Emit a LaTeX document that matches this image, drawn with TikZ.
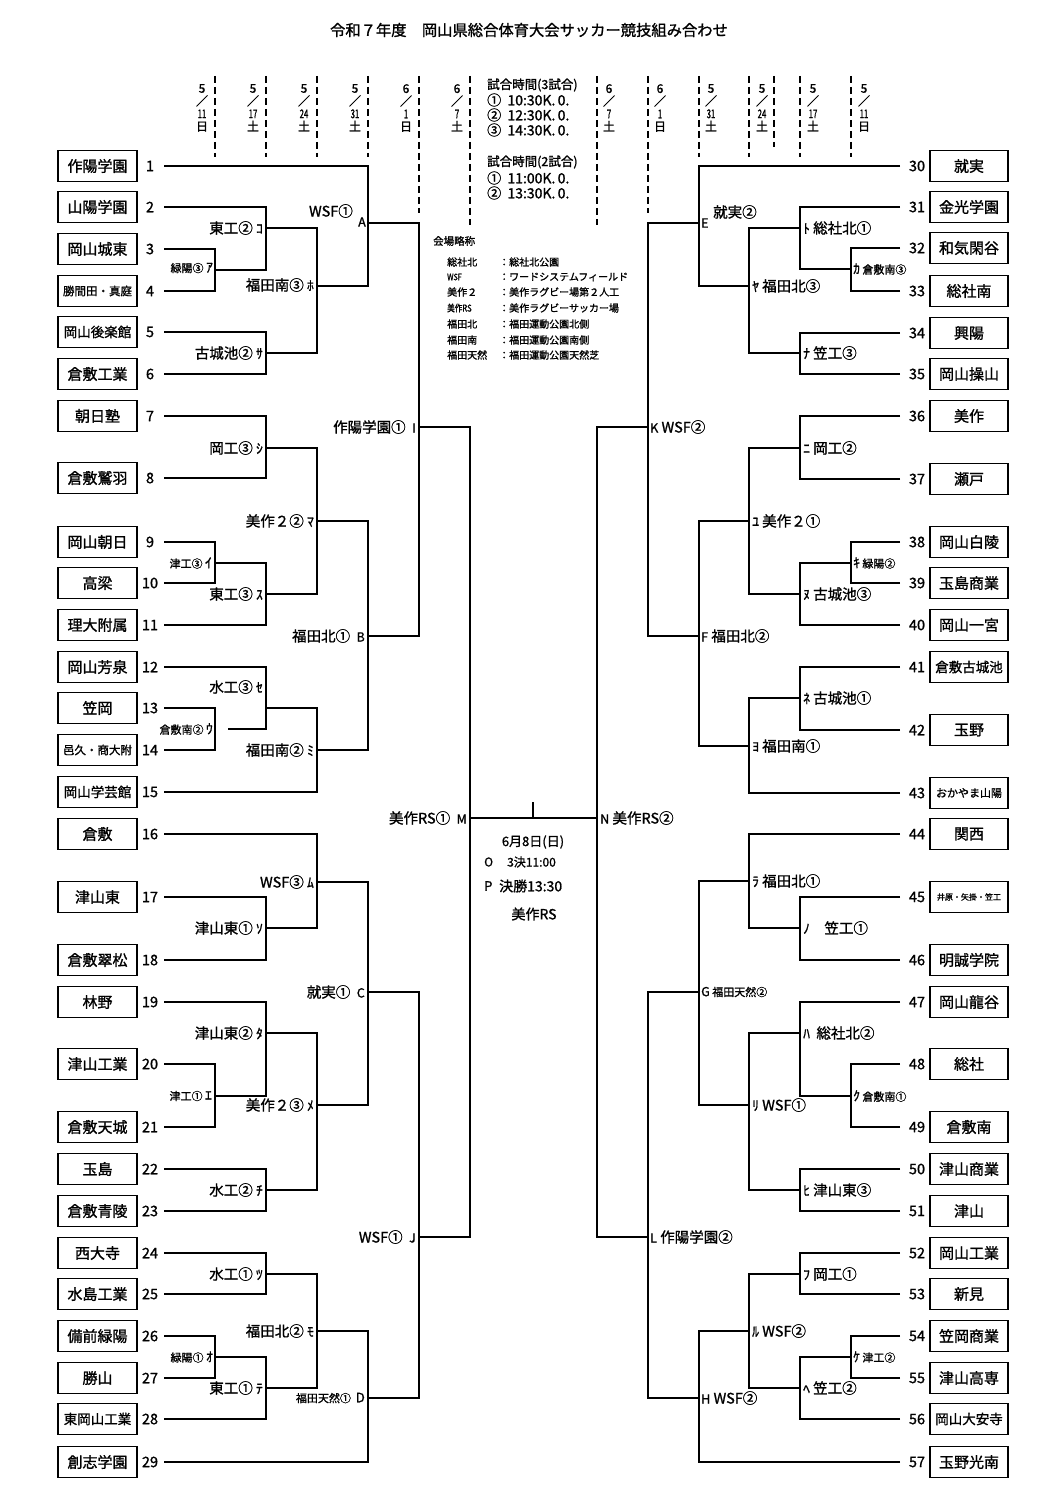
\documentclass[tikz,border=0pt]{standalone}
\usepackage{fontspec}
\setmainfont{Noto Sans CJK JP}[FakeBold=1.2]
\newcommand\fsz[1]{\fontsize{#1}{#1}\selectfont}
\newcommand\kanamark[1]{{\fsz{13.5}#1}}
\begin{document}
\begin{tikzpicture}[x=1pt,y=-1pt,
  namebox/.style={draw, line width=1.8pt, minimum width=79pt, minimum height=31pt, inner sep=0pt},
  numlab/.style={inner sep=0pt, font=\fsz{14.5}},
  lab/.style={inner sep=0pt, font=\fsz{14.5}},
  slab/.style={inner sep=0pt, font=\fsz{11}},
  txt/.style={inner sep=0pt},
  dashline/.style={line width=2.8pt, dash pattern=on 7pt off 4pt},
  br/.style={line width=1.9pt},
  datelab/.style={inner sep=0pt, align=center, anchor=north, font=\fontsize{12}{12.7}\selectfont}]
\fill[white] (0,0) rectangle (1059,1511);
\useasboundingbox (0,0) rectangle (1059,1511);

% title
\node[txt, font=\fsz{15.3}] (title) at (529,30) {令和７年度　岡山県総合体育大会サッカー競技組み合わせ};

% dashed day lines
\foreach \x in {215,266,317,368,699,749,800,851} {\draw[dashline] (\x,76) -- (\x,157);}
\draw[dashline] (774,76) -- (774,147);
\foreach \x in {419,648} {\draw[dashline] (\x,76) -- (\x,213);}
\foreach \x in {470,597} {\draw[dashline] (\x,76) -- (\x,225);}

% date labels
\foreach \x/\m/\d/\w [count=\k] in {202/5/11/日,253/5/17/土,304/5/24/土,355/5/31/土,406/6/1/日,457/6/7/土,609/6/7/土,660/6/1/日,711/5/31/土,762/5/24/土,813/5/17/土,864/5/11/日}
  {\node[datelab] (date\k) at (\x,84) {\m\\／\\\scalebox{0.65}[1]{\d}\\\w};}

% match times
\node[txt, anchor=west, font=\fsz{12.5}] (tm0) at (487,85) {試合時間(3試合)};
\node[txt, anchor=west, font=\fsz{14}] (tm1) at (487,100) {①\ \ 10:30K.\,0.};
\node[txt, anchor=west, font=\fsz{14}] (tm2) at (487,115) {②\ \ 12:30K.\,0.};
\node[txt, anchor=west, font=\fsz{14}] (tm3) at (487,130) {③\ \ 14:30K.\,0.};
\node[txt, anchor=west, font=\fsz{12.5}] (tm4) at (487,162) {試合時間(2試合)};
\node[txt, anchor=west, font=\fsz{14}] (tm5) at (487,178) {①\ \ 11:00K.\,0.};
\node[txt, anchor=west, font=\fsz{14}] (tm6) at (487,193) {②\ \ 13:30K.\,0.};

% legend
\node[txt, anchor=west, font=\fsz{10.5}] (lg0) at (433,241) {会場略称};
\foreach \y/\a/\b [count=\k] in {262/総社北/総社北公園,277/{\scalebox{0.8}[1]{\fsz{9}WSF}}/ワードシステムフィールド,292/美作２/美作ラグビー場第２人工,308/{\scalebox{0.8}[1]{\fsz{9.5}美作RS}}/美作ラグビーサッカー場,324/福田北/福田運動公園北側,340/福田南/福田運動公園南側,355/福田天然/福田運動公園天然芝}
{
  \node[txt, anchor=west, font=\fsz{10}] (lga\k) at (447,\y) {\a};
  \node[txt, anchor=west, font=\fsz{10}] (lgb\k) at (499,\y) {：\b};
}

% left teams
\foreach \n/\y/\nm/\fs in {1/166/作陽学園/15,2/207/山陽学園/15,3/249/岡山城東/15,4/291/勝間田・真庭/11.5,5/332/岡山後楽館/13.5,6/374/倉敷工業/15,7/416/朝日塾/15,8/478/倉敷鷲羽/15,9/542/岡山朝日/15,10/583/高梁/15,11/625/理大附属/15,12/667/岡山芳泉/15,13/708/笠岡/15,14/750/邑久・商大附/11.5,15/792/岡山学芸館/13.5,16/834/倉敷/15,17/897/津山東/15,18/960/倉敷翠松/15,19/1002/林野/15,20/1064/津山工業/15,21/1127/倉敷天城/15,22/1169/玉島/15,23/1211/倉敷青陵/15,24/1253/西大寺/15,25/1294/水島工業/15,26/1336/備前緑陽/15,27/1378/勝山/15,28/1419/東岡山工業/13.5,29/1462/創志学園/15}
{
  \node[namebox, font=\fsz{\fs}] (box\n) at (97.5,\y) {\nm};
  \node[numlab] (num\n) at (150,\y) {\n};
  \coordinate (t\n) at (164,\y);
}
% right teams
\foreach \n/\y/\nm/\fs in {30/166/就実/15,31/207/金光学園/15,32/248/和気閑谷/15,33/291/総社南/15,34/333/興陽/15,35/374/岡山操山/15,36/416/美作/15,37/479/瀬戸/15,38/542/岡山白陵/15,39/583/玉島商業/15,40/625/岡山一宮/15,41/667/倉敷古城池/13.5,42/730/玉野/15,43/793/おかやま山陽/11,44/834/関西/15,45/897/井原・矢掛・笠工/8,46/960/明誠学院/15,47/1002/岡山龍谷/15,48/1064/総社/15,49/1127/倉敷南/15,50/1169/津山商業/15,51/1211/津山/15,52/1253/岡山工業/15,53/1294/新見/15,54/1336/笠岡商業/15,55/1378/津山高専/15,56/1419/岡山大安寺/13.5,57/1462/玉野光南/15}
{
  \node[namebox, minimum width=78pt, font=\fsz{\fs}] (box\n) at (969,\y) {\nm};
  \node[numlab] (num\n) at (917,\y) {\n};
  \coordinate (t\n) at (900,\y);
}

% left junctions
\coordinate (ja) at (215,270);
\coordinate (jko) at (266,228);
\coordinate (jsa) at (266,353);
\coordinate (jho) at (317,286);
\coordinate (jA) at (368,223);
\coordinate (jshi) at (266,448);
\coordinate (ji) at (215,563);
\coordinate (jsu) at (266,594);
\coordinate (jma) at (317,521);
\coordinate (ju) at (215,729);
\coordinate (juout) at (228,729);
\coordinate (jse) at (266,708);
\coordinate (jmi) at (317,750);
\coordinate (jB) at (368,636);
\coordinate (jI) at (419,427);
\coordinate (jso) at (266,928);
\coordinate (jmu) at (317,882);
\coordinate (je) at (215,1096);
\coordinate (jta) at (266,1033);
\coordinate (jchi) at (266,1190);
\coordinate (jme) at (317,1105);
\coordinate (jC) at (368,992);
\coordinate (jtsu) at (266,1274);
\coordinate (jo) at (215,1357);
\coordinate (jte) at (266,1388);
\coordinate (jmo) at (317,1331);
\coordinate (jD) at (368,1398);
\coordinate (jJ) at (419,1237);
\coordinate (jM) at (470,818);
% right junctions
\coordinate (jE) at (699,223);
\coordinate (jto) at (800,228);
\coordinate (jka) at (851,269);
\coordinate (jya) at (749,286);
\coordinate (jna) at (800,353);
\coordinate (jK) at (648,427);
\coordinate (jni) at (800,448);
\coordinate (jyu) at (749,521);
\coordinate (jki) at (851,563);
\coordinate (jnu) at (800,594);
\coordinate (jF) at (699,636);
\coordinate (jne) at (800,698);
\coordinate (jyo) at (749,746);
\coordinate (jN) at (597,818);
\coordinate (jra) at (749,881);
\coordinate (jno) at (800,928);
\coordinate (jG) at (699,992);
\coordinate (jha) at (800,1033);
\coordinate (jku) at (851,1096);
\coordinate (jri) at (749,1105);
\coordinate (jhi) at (800,1190);
\coordinate (jL) at (648,1237);
\coordinate (jfu) at (800,1274);
\coordinate (jru) at (749,1331);
\coordinate (jke) at (851,1357);
\coordinate (jhe) at (800,1388);
\coordinate (jH) at (699,1398);
\coordinate (tick) at (533,802);

% left bracket
\draw[br] (t1) -| (jA) (t2) -| (jko) (t3) -| (ja) (t4) -| (ja) (ja) -| (jko)
  (jko) -| (jho) (t5) -| (jsa) (t6) -| (jsa) (jsa) -| (jho) (jho) -| (jA) (jA) -| (jI)
  (t7) -| (jshi) (t8) -| (jshi) (jshi) -| (jma) (t9) -| (ji) (t10) -| (ji) (ji) -| (jsu)
  (t11) -| (jsu) (jsu) -| (jma) (jma) -| (jB) (t12) -| (jse) (t13) -| (ju) (t14) -| (ju)
  (juout) -| (jse) (jse) -| (jmi) (t15) -| (jmi) (jmi) -| (jB) (jB) -| (jI) (jI) -| (jM)
  (t16) -| (jmu) (t17) -| (jso) (t18) -| (jso) (jso) -| (jmu) (jmu) -| (jC)
  (t19) -| (jta) (t20) -| (je) (t21) -| (je) (je) -| (jta) (jta) -| (jme)
  (t22) -| (jchi) (t23) -| (jchi) (jchi) -| (jme) (jme) -| (jC) (jC) -| (jJ)
  (t24) -| (jtsu) (t25) -| (jtsu) (jtsu) -| (jmo) (t26) -| (jo) (t27) -| (jo) (jo) -| (jte)
  (t28) -| (jte) (jte) -| (jmo) (jmo) -| (jD) (t29) -| (jD) (jD) -| (jJ) (jJ) -| (jM);
% right bracket
\draw[br] (t30) -| (jE) (t31) -| (jto) (t32) -| (jka) (t33) -| (jka) (jka) -| (jto)
  (jto) -| (jya) (t34) -| (jna) (t35) -| (jna) (jna) -| (jya) (jya) -| (jE) (jE) -| (jK)
  (t36) -| (jni) (t37) -| (jni) (jni) -| (jyu) (t38) -| (jki) (t39) -| (jki) (jki) -| (jnu)
  (t40) -| (jnu) (jnu) -| (jyu) (jyu) -| (jF) (t41) -| (jne) (t42) -| (jne) (jne) -| (jyo)
  (t43) -| (jyo) (jyo) -| (jF) (jF) -| (jK) (jK) -| (jN)
  (t44) -| (jra) (t45) -| (jno) (t46) -| (jno) (jno) -| (jra) (jra) -| (jG)
  (t47) -| (jha) (t48) -| (jku) (t49) -| (jku) (jku) -| (jha) (jha) -| (jri)
  (t50) -| (jhi) (t51) -| (jhi) (jhi) -| (jri) (jri) -| (jG) (jG) -| (jL)
  (t52) -| (jfu) (t53) -| (jfu) (jfu) -| (jru) (t54) -| (jke) (t55) -| (jke) (jke) -| (jhe)
  (t56) -| (jhe) (jhe) -| (jru) (jru) -| (jH) (t57) -| (jH) (jH) -| (jL) (jL) -| (jN);
\draw[br] (jM) -- (jN) (tick) -- (tick |- jM);

% left labels
\node[slab, anchor=east] (la) at (213,268) {緑陽③ \kanamark{ｱ}};
\node[lab, anchor=east] (lko) at (263,228) {東工② \kanamark{ｺ}};
\node[lab, anchor=east] (lsa) at (263,353) {古城池② \kanamark{ｻ}};
\node[lab, anchor=east] (lho) at (314,285) {福田南③ \kanamark{ﾎ}};
\node[lab, anchor=east] (lA1) at (353,211) {WSF①};
\node[lab, anchor=east, font=\fsz{12.5}] (lA2) at (366,222) {A};
\node[lab, anchor=east] (lshi) at (263,448) {岡工③ \kanamark{ｼ}};
\node[slab, anchor=east] (li) at (212,563) {津工③ \kanamark{ｲ}};
\node[lab, anchor=east] (lsu) at (263,594) {東工③ \kanamark{ｽ}};
\node[lab, anchor=east] (lma) at (314,521) {美作２② \kanamark{ﾏ}};
\node[slab, anchor=east] (lu) at (213,729) {倉敷南② \kanamark{ｳ}};
\node[lab, anchor=east] (lse) at (263,687) {水工③ \kanamark{ｾ}};
\node[lab, anchor=east] (lmi) at (314,750) {福田南② \kanamark{ﾐ}};
\node[lab, anchor=east] (lB) at (365,636) {福田北①\ \ {\fsz{12.5}B}};
\node[lab, anchor=east] (lI) at (416,427) {作陽学園①\ \ {\fsz{12.5}I}};
\node[lab, anchor=east] (lso) at (263,928) {津山東① \kanamark{ｿ}};
\node[lab, anchor=east] (lmu) at (314,882) {WSF③ \kanamark{ﾑ}};
\node[lab, anchor=east] (lta) at (263,1033) {津山東② \kanamark{ﾀ}};
\node[slab, anchor=east] (le) at (212,1096) {津工① \kanamark{ｴ}};
\node[lab, anchor=east] (lme) at (314,1105) {美作２③ \kanamark{ﾒ}};
\node[lab, anchor=east] (lC) at (365,992) {就実①\ \ {\fsz{12.5}C}};
\node[lab, anchor=east] (lchi) at (263,1190) {水工② \kanamark{ﾁ}};
\node[lab, anchor=east] (ltsu) at (263,1274) {水工① \kanamark{ﾂ}};
\node[lab, anchor=east] (lmo) at (314,1331) {福田北② \kanamark{ﾓ}};
\node[slab, anchor=east] (lo) at (213,1357) {緑陽① \kanamark{ｵ}};
\node[lab, anchor=east] (lte) at (263,1388) {東工① \kanamark{ﾃ}};
\node[slab, anchor=east] (lD) at (365,1398) {福田天然①\ \ {\fsz{13}D}};
\node[lab, anchor=east] (lJ) at (416,1237) {WSF①\ \ {\fsz{12.5}J}};
\node[lab, anchor=east] (lM) at (467,818) {美作RS①\ \ {\fsz{12.5}M}};

% right labels
\node[lab, anchor=west, font=\fsz{12.5}] (lE1) at (701,223) {E};
\node[lab, anchor=west] (lE2) at (713,212) {就実②};
\node[lab, anchor=west] (lto) at (803,228) {\kanamark{ﾄ} 総社北①};
\node[slab, anchor=west] (lka) at (853,269) {\kanamark{ｶ} 倉敷南③};
\node[lab, anchor=west] (lya) at (752,286) {\kanamark{ﾔ} 福田北③};
\node[lab, anchor=west] (lna) at (803,353) {\kanamark{ﾅ} 笠工③};
\node[lab, anchor=west] (lK) at (650,427) {{\fsz{12.5}K} WSF②};
\node[lab, anchor=west] (lni) at (803,448) {\kanamark{ﾆ} 岡工②};
\node[lab, anchor=west] (lyu) at (752,521) {\kanamark{ﾕ} 美作２①};
\node[slab, anchor=west] (lki) at (853,563) {\kanamark{ｷ} 緑陽②};
\node[lab, anchor=west] (lnu) at (803,594) {\kanamark{ﾇ} 古城池③};
\node[lab, anchor=west] (lF) at (701,636) {{\fsz{12.5}F} 福田北②};
\node[lab, anchor=west] (lne) at (803,698) {\kanamark{ﾈ} 古城池①};
\node[lab, anchor=west] (lyo) at (752,746) {\kanamark{ﾖ} 福田南①};
\node[lab, anchor=west] (lN) at (600,818) {{\fsz{12.5}N} 美作RS②};
\node[lab, anchor=west] (lra) at (752,881) {\kanamark{ﾗ} 福田北①};
\node[lab, anchor=west] (lno) at (803,928) {\kanamark{ﾉ}\quad 笠工①};
\node[slab, anchor=west] (lG) at (701,992) {{\fsz{12.5}G} 福田天然②};
\node[lab, anchor=west] (lha) at (803,1033) {\kanamark{ﾊ}\ \ 総社北②};
\node[slab, anchor=west] (lku) at (853,1096) {\kanamark{ｸ} 倉敷南①};
\node[lab, anchor=west] (lri) at (752,1105) {\kanamark{ﾘ} WSF①};
\node[lab, anchor=west] (lhi) at (803,1190) {\kanamark{ﾋ} 津山東③};
\node[lab, anchor=west] (lL) at (650,1237) {{\fsz{12.5}L} 作陽学園②};
\node[lab, anchor=west] (lfu) at (803,1274) {\kanamark{ﾌ} 岡工①};
\node[lab, anchor=west] (lru) at (752,1331) {\kanamark{ﾙ} WSF②};
\node[slab, anchor=west] (lke) at (853,1357) {\kanamark{ｹ} 津工②};
\node[lab, anchor=west] (lhe) at (803,1388) {\kanamark{ﾍ} 笠工②};
\node[lab, anchor=west] (lH) at (701,1398) {{\fsz{12.5}H} WSF②};

% final info
\node[txt, font=\fsz{13}] (fdate) at (533,842) {6月8日(日)};
\node[txt, anchor=west, font=\fsz{12}] (fO) at (484,862) {O};
\node[txt, anchor=west, font=\fsz{12}] (fOt) at (507,862) {3決11:00};
\node[txt, anchor=west, font=\fsz{13}] (fP) at (484,886) {P};
\node[txt, anchor=west, font=\fsz{14}] (fPt) at (499,886) {決勝13:30};
\node[txt, font=\fsz{14}] (fvenue) at (534,914) {美作RS};
\end{tikzpicture}
\end{document}
